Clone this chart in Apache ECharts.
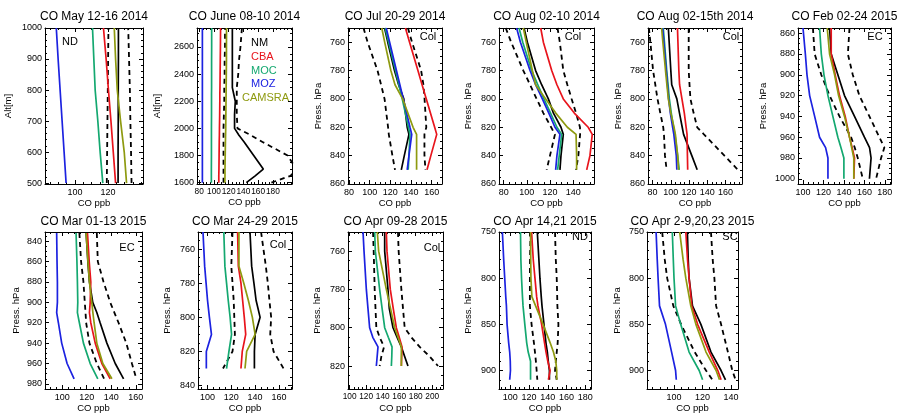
<!DOCTYPE html>
<html><head><meta charset="utf-8">
<script src="https://cdn.jsdelivr.net/npm/echarts@6/dist/echarts.min.js"></script>
<style>html,body{margin:0;padding:0;background:#fff}#c{width:897px;height:415px}</style>
</head><body><div id="c"></div>
<script>
// ---------------- DATA ----------------
const TITLES = ['CO May 12-16 2014','CO June 08-10 2014','CO Jul 20-29 2014','CO Aug 02-10 2014','CO Aug 02-15th 2014','CO Feb 02-24 2015','CO Mar 01-13 2015','CO Mar 24-29 2015','CO Apr 09-28 2015','CO Apr 14,21 2015','CO Apr 2-9,20,23 2015'];
const REGIONS = ['ND','','Col','Col','Col','EC','EC','Col','Col','ND','SC'];
const Y_NAMES = ['Alt[m]','Alt[m]','Press. hPa','Press. hPa','Press. hPa','Press. hPa','Press. hPa','Press. hPa','Press. hPa','Press. hPa','Press. hPa'];
const X_NAME = 'CO ppb';
const LEGEND_NAMES = ['NM','CBA','MOC','MOZ','CAMSRA'];
const X_TICKS = [[100,120],[80,100,120,140,160,180],[80,100,120,140,160],[80,100,120,140],[80,100,120,140,160],[100,120,140,160,180],[100,120,140,160],[100,120,140,160],[100,120,140,160,180,200],[100,120,140,160,180],[100,120,140]];
const Y_TICKS = [[500,600,700,800,900,1000],[1600,1800,2000,2200,2400,2600],[760,780,800,820,840,860],[760,780,800,820,840,860],[760,780,800,820,840,860],[860,880,900,920,940,960,980,1000],[840,860,880,900,920,940,960,980],[760,780,800,820,840],[760,780,800,820],[750,800,850,900],[750,800,850,900]];

const p1Levels = [500,600,700,800,900,1000];
const p1NM = [126,126,126.1,126.1,126.2,126.2];
const p1NMlo = [119.2,119.4,119.6,119.8,120,120.2];
const p1NMhi = [134.1,133.8,133.4,133.1,132.6,132.1];
const p1CBA = [124.5,123.1,121.7,120.2,118.8,117.2];
const p1MOC = [116.8,115.2,113.8,112.2,111.4,110.6];
const p1MOZ = [94.7,93.5,92.3,91.1,89.9,88.8];
const p1CAMSRA = [131.1,129.7,127.5,125.5,124.5,123.7];

const p2Levels = [1600,1650,1700,1800,1900,1950,2000,2100,2200,2250,2300,2400,2500,2600,2740];
const p2NM = [144,156,167,154,141,134,128,128,129,127,125,125,125,125,125];
const p2NMlo = [113,113,113,113,113,113,113,113.5,114,114,114,114.5,114.5,115,115];
const p2NMhi = [178,204,212,200,166,150,132,131,131,131,131,133,134,136,138];
const p2CBA = [106.6,106.6,106.8,107,107.2,107.4,107.5,107.8,108,108,108.2,108.4,108.6,108.8,109];
const p2MOC = [96.5,96.5,96.5,96.6,96.6,96.6,96.6,96.7,96.7,96.7,96.8,96.8,96.8,96.9,96.9];
const p2MOZ = [84.3,84.3,84.3,84.3,84.3,84.3,84.3,84.3,84.3,84.3,84.3,84.3,84.3,84.3,84.3];
const p2CAMSRA = [114.8,115,115,115.3,115.6,115.8,116,116.2,116.4,116.5,116.6,116.8,117,117,117.1];

const p3Levels = [750,760,780,790,800,820,825,840,850];
const p3NM = [114.4,117.5,124,128,133,136.3,138,133.5,130.6];
const p3NMlo = [94,98,107.6,111,114.4,117.8,118.5,122,124.5];
const p3NMhi = [137,141,149.8,152,153.1,154.8,153,153,154];
const p3CBA = [134.6,138.6,146.7,150.7,154.8,162.9,164.9,159.2,155.5];
const p3MOC = [115,118.3,125,128.3,131.5,137.5,139,138,137.3];
const p3MOZ = [116,119.3,125.9,129.2,132.5,139,140.7,138,136.3];
const p3CAMSRA = [111.7,114.5,120.5,124.5,131.9,142,145.4,145.4,145.4];

const p4Levels = [750,760,780,790,800,810,820,825,840,850];
const p4NM = [97.6,100.5,107.6,112.8,118.6,123,129.5,131.5,129.5,128.6];
const p4NMlo = [81.8,86.5,97,102.8,108.5,114.3,121,124.3,120,117.1];
const p4NMhi = [126.5,128.5,131.5,135,138.7,142.5,145.9,146,144.5,142.5];
const p4CBA = [112,114.3,121.5,126,131.5,141,153,156.5,154.5,151.7];
const p4MOC = [93.3,96.5,104.2,109.5,114.8,120.5,126,130.1,128,126.6];
const p4MOZ = [91.2,94.5,102.8,107.6,113.4,119,124.3,128.6,126,124.9];
const p4CAMSRA = [97,99.5,104.8,107.6,116.3,125,135,142.5,143,143];

const p5Levels = [750,760,780,790,800,810,820,825,840,850];
const p5NM = [97.3,98.2,100,101,106.6,109.5,112.5,114,123,128.9];
const p5NMlo = [76,77.6,80.6,83,85.4,88.5,91.7,92.5,93.6,95.4];
const p5NMhi = [119.6,119.6,119.6,120.5,121.5,125,128.9,136.3,158.7,173.5];
const p5CBA = [107.3,107.8,108.8,109.6,112.2,114.8,116.8,117.8,118.2,118.5];
const p5MOC = [91.7,93,95.5,97,98.4,100.5,103,104.5,107.5,109.2];
const p5MOZ = [91,92.3,95,96.3,97.6,99.5,102,103.3,106,106.6];
const p5CAMSRA = [89.9,91.3,94.2,95.7,97.3,100,103.5,105,107.5,108.5];

const p6Levels = [855,880,900,920,940,960,970,980,1000];
const p6NM = [125.9,127.5,134,140.5,150.3,160,165,166.5,164.9];
const p6NMlo = [109.6,111.3,117.8,125.9,135.6,147,150.5,153.5,158.4];
const p6NMhi = [145.4,143.8,148.6,155.1,164.9,174.6,179.5,176.3,171.4];
const p6CBA = [127.5,127.5,131.4,135.6,141.2,145.4,148,150.3,149.6];
const p6MOC = [116.1,117.8,120.4,124.3,129.1,134,137,139.9,139.9];
const p6MOZ = [99.9,102.2,103.8,106.4,111.3,116.1,122,124.3,124.3];
const p6CAMSRA = [123.6,125.9,130.8,134.7,140.5,145.4,147.5,149.6,149.6];

const p7Levels = [832,860,880,900,910,920,940,960,975];
const p7NM = [119.5,120.9,122.2,124.9,128.2,130.9,136.4,143.2,150];
const p7NMlo = [114,115.4,117.3,118.4,119,119.5,122.2,128.2,134.2];
const p7NMhi = [128.2,129,133.7,139.1,142.5,145.9,152.2,156.8,160.4];
const p7CBA = [120.6,122,123.3,122.8,122.2,123.3,126.9,132.3,139.1];
const p7MOC = [111.3,112,112.4,112.7,112.4,114,117.3,122.8,129];
const p7MOZ = [95.5,95.8,96.1,96.1,95.5,96.9,99.6,104,109.7];
const p7CAMSRA = [119.5,121,122.2,124.1,125,126,128.2,133.1,140.5];

const p8Levels = [750,770,780,790,800,810,820,830];
const p8NM = [135.7,137.1,139,140.8,144.2,140,139.4,139.4];
const p8NMlo = [121,120,121,122,122.5,123,121,113];
const p8NMhi = [145,149,150.7,152,153.5,152.7,155.5,163.9];
const p8CBA = [125.3,125.9,128.1,129.5,130.9,132.1,129.2,128.1];
const p8MOC = [113.7,114.6,116,117.4,119,120.2,118,116];
const p8MOZ = [96.2,97.6,98.8,100,101.6,103.3,99,99];
const p8CAMSRA = [126.4,126.4,130.5,134.3,137.7,140,132.9,131.5];

const p9Levels = [750,760,780,790,800,805,810,815,820];
const p9NM = [142.4,142.4,146.4,148,152.5,157.5,162.6,166.6,170.6];
const p9NMlo = [128.3,129.1,130.3,131.3,132.3,136.3,141.6,138.4,136.3];
const p9NMhi = [158.5,159.3,162.6,164.6,166.6,174.7,184.8,196.9,207];
const p9CBA = [144.4,145.2,149.2,152.8,156.5,160,163.4,163,162.6];
const p9MOC = [130.3,131.1,136.3,139.3,142.4,146.8,151.3,151,150.5];
const p9MOZ = [116.2,117.4,120.2,122.2,124.2,128,134.3,133.3,132.3];
const p9CAMSRA = [133.5,135.1,144.4,149.5,154.5,158.5,162.6,162.6,162.6];

const p10Levels = [750,780,800,820,830,850,870,880,890,900,910];
const p10NM = [128.8,130.5,131.6,133,133.8,135.9,138,139.5,140.5,141.7,141.7];
const p10NMlo = [121.6,121,120.9,120.9,120.9,122.7,125.2,126.3,127.3,128.1,128.8];
const p10NMhi = [147.7,148.5,149.5,150,150.2,151.3,150.5,149.5,148.5,147.7,149.5];
const p10CBA = [122.7,124.5,126.3,128.1,129.5,133.4,136.5,138.1,140,142.4,140.6];
const p10MOC = [110.9,111.3,112,113,113.6,115.5,117.5,119.1,121.6,121.6,121.6];
const p10MOZ = [91.6,93,94.1,95.2,95.9,96.6,98.3,99.4,100,100.2,99.4];
const p10CAMSRA = [121.6,121.8,122,123,127,135,142.5,146,148.5,149.5,149.5];

const p11Levels = [750,780,800,830,850,880,900,910];
const p11NM = [109.4,110,110.6,113,118.9,126,133.1,136.2];
const p11NMlo = [91.7,93.5,95.2,99.5,105,114.5,122.5,127];
const p11NMhi = [126,127.2,128.4,129.6,133.1,137.9,141,143.3];
const p11CBA = [108.3,109.5,110.6,112.5,116.6,124.8,130.8,133.1];
const p11MOC = [98.8,99.5,100,101.1,104.7,110.6,117.7,120.1];
const p11MOZ = [87.4,88.2,88.8,89.8,94,98.3,101.1,101.6];
const p11CAMSRA = [104,106.4,108.3,111.8,115.4,122.5,129.6,132];

// ---------------- LAYOUT ----------------
const PANEL_SERIES = [
  [p1Levels,p1NM,p1NMlo,p1NMhi,p1CBA,p1MOC,p1MOZ,p1CAMSRA],
  [p2Levels,p2NM,p2NMlo,p2NMhi,p2CBA,p2MOC,p2MOZ,p2CAMSRA],
  [p3Levels,p3NM,p3NMlo,p3NMhi,p3CBA,p3MOC,p3MOZ,p3CAMSRA],
  [p4Levels,p4NM,p4NMlo,p4NMhi,p4CBA,p4MOC,p4MOZ,p4CAMSRA],
  [p5Levels,p5NM,p5NMlo,p5NMhi,p5CBA,p5MOC,p5MOZ,p5CAMSRA],
  [p6Levels,p6NM,p6NMlo,p6NMhi,p6CBA,p6MOC,p6MOZ,p6CAMSRA],
  [p7Levels,p7NM,p7NMlo,p7NMhi,p7CBA,p7MOC,p7MOZ,p7CAMSRA],
  [p8Levels,p8NM,p8NMlo,p8NMhi,p8CBA,p8MOC,p8MOZ,p8CAMSRA],
  [p9Levels,p9NM,p9NMlo,p9NMhi,p9CBA,p9MOC,p9MOZ,p9CAMSRA],
  [p10Levels,p10NM,p10NMlo,p10NMhi,p10CBA,p10MOC,p10MOZ,p10CAMSRA],
  [p11Levels,p11NM,p11NMlo,p11NMhi,p11CBA,p11MOC,p11MOZ,p11CAMSRA]
];
// box: [left, right, top, bottom] in px
const BOX = [[45,143,28,184],[197,292,28,184],[348,442,28,184],[499,594,28,184],[648,742,28,184],[798,891,28,184],
             [45,142,232,389],[198,292,232,389],[348,443,232,389],[499,591,232,389],[647,738,232,389]];
const XR = [[82,141],[77,206],[79,170],[76,158],[75,178],[95,186],[86,165],[92,171],[98,213],[88,186],[81,145]];
const YR = [[497,1000],[1590,2740],[750,860],[750,860],[750,860],[855,1005],[831,985],[750,842],[750,832],[750,920],[750,920]];
const INV = [false,false,true,true,true,true,true,true,true,true,true];
const XMINOR = [5,5,5,5,5,5,5,5,5,5,5];
const YMINOR = [20,50,5,5,5,5,5,5,5,10,10];
const YGAP = [32,35,25,26,25,30,24,26,26,26,25];
const XFONT = [9,8.3,9,9,9,9,9,9,8.3,9,9];
const REGION_POS = [[70,42],null,[428,37],[573,37],[731,37],[875,37],[127,248],[278,245],[432,248],[580,237],[730,237]];

const FONT = '"Liberation Sans", Arial, Helvetica, sans-serif';
const COLORS = {NM:'#000000', CBA:'#e8141c', MOC:'#14a870', MOZ:'#1c22e0', CAMSRA:'#8e9a10'};

function minorTicks(min, max, step, major){
  const out = [];
  for (let v = Math.ceil(min/step)*step; v <= max + 1e-9; v += step) {
    const r = Math.round(v*1000)/1000;
    if (major.indexOf(r) < 0) out.push(r);
  }
  return out;
}
const plain = (v) => String(Math.round(v));

const grid = [], xAxis = [], yAxis = [], series = [], title = [], graphic = [];
const W = 897, H = 415;

BOX.forEach((b, i) => {
  grid.push({left: b[0], top: b[2], width: b[1]-b[0], height: b[3]-b[2], show: false, containLabel: false});
  const xMaj = X_TICKS[i], yMaj = Y_TICKS[i];
  const xMin = minorTicks(XR[i][0], XR[i][1], XMINOR[i], xMaj);
  const yMin = minorTicks(YR[i][0], YR[i][1], YMINOR[i], yMaj);
  const base = {type:'value', gridIndex:i, scale:true, splitLine:{show:false}, silent:true};
  const lineOn = {show:true, onZero:false, lineStyle:{color:'#000', width:1}};
  const tickMaj = (vals) => ({show:true, inside:true, length:4, customValues: vals, lineStyle:{color:'#000', width:1}});
  const tickMin = (vals) => ({show:true, inside:true, length:2, customValues: vals, lineStyle:{color:'#000', width:1}});
  const isBottom = i >= 6;
  xAxis.push(Object.assign({}, base, {min:XR[i][0], max:XR[i][1], position:'bottom', axisLine:lineOn, axisTick:tickMaj(xMaj),
    axisLabel:{show:true, customValues:xMaj, formatter:plain, hideOverlap:false, fontSize:XFONT[i], color:'#000', margin:4, fontFamily:FONT},
    name:X_NAME, nameLocation:'middle', nameGap: isBottom ? 14 : 11, nameTextStyle:{fontSize:9.5, color:'#000', fontFamily:FONT}}));
  xAxis.push(Object.assign({}, base, {min:XR[i][0], max:XR[i][1], position:'bottom', axisLine:{show:false}, axisTick:tickMin(xMin), axisLabel:{show:false}}));
  xAxis.push(Object.assign({}, base, {min:XR[i][0], max:XR[i][1], position:'top', axisLine:lineOn, axisTick:tickMaj(xMaj), axisLabel:{show:false}}));
  xAxis.push(Object.assign({}, base, {min:XR[i][0], max:XR[i][1], position:'top', axisLine:{show:false}, axisTick:tickMin(xMin), axisLabel:{show:false}}));
  yAxis.push(Object.assign({}, base, {min:YR[i][0], max:YR[i][1], inverse:INV[i], position:'left', axisLine:lineOn, axisTick:tickMaj(yMaj),
    axisLabel:{show:true, customValues:yMaj, formatter:plain, hideOverlap:false, fontSize:9, color:'#000', margin:3, fontFamily:FONT},
    name:Y_NAMES[i], nameLocation:'middle', nameGap:YGAP[i], nameRotate:90, nameTextStyle:{fontSize:9.5, color:'#000', fontFamily:FONT}}));
  yAxis.push(Object.assign({}, base, {min:YR[i][0], max:YR[i][1], inverse:INV[i], position:'left', axisLine:{show:false}, axisTick:tickMin(yMin), axisLabel:{show:false}}));
  yAxis.push(Object.assign({}, base, {min:YR[i][0], max:YR[i][1], inverse:INV[i], position:'right', axisLine:lineOn, axisTick:tickMaj(yMaj), axisLabel:{show:false}}));
  yAxis.push(Object.assign({}, base, {min:YR[i][0], max:YR[i][1], inverse:INV[i], position:'right', axisLine:{show:false}, axisTick:tickMin(yMin), axisLabel:{show:false}}));

  const [lev, NM, NMlo, NMhi, CBA, MOC, MOZ, CAM] = PANEL_SERIES[i];
  const mk = (name, vals, color, dashed, width) => ({
    type:'line', name, xAxisIndex:4*i, yAxisIndex:4*i, showSymbol:false, symbol:'none', clip:true, silent:true,
    animation:false, z: dashed ? 2 : 3,
    lineStyle:{color, width, type: dashed ? [5,4] : 'solid'},
    data: lev.map((p, k) => vals[k] == null ? null : [vals[k], p]).filter(d => d)
  });
  series.push(mk('NM -sd', NMlo, COLORS.NM, true, 1.8));
  series.push(mk('NM +sd', NMhi, COLORS.NM, true, 1.8));
  series.push(mk('NM', NM, COLORS.NM, false, 1.7));
  series.push(mk('CBA', CBA, COLORS.CBA, false, 1.7));
  series.push(mk('MOC', MOC, COLORS.MOC, false, 1.7));
  series.push(mk('MOZ', MOZ, COLORS.MOZ, false, 1.7));
  series.push(mk('CAMSRA', CAM, COLORS.CAMSRA, false, 1.7));

  title.push({text: TITLES[i], left: (b[0]+b[1])/2, top: isBottom ? 222 : 17, textAlign:'center', textVerticalAlign:'middle', padding:0,
    textStyle:{fontSize:12, fontWeight:'normal', color:'#000', fontFamily:FONT}});
  if (REGIONS[i]) {
    graphic.push({type:'text', x: REGION_POS[i][0], y: REGION_POS[i][1], silent:true,
      style:{text: REGIONS[i], fill:'#000', fontSize:11, fontFamily:FONT, align:'center', verticalAlign:'middle'}});
  }
});

const LEG_POS = [[251,43],[251,57],[251,71],[251,84],[242,98]];
LEGEND_NAMES.forEach((n, k) => {
  graphic.push({type:'text', x: LEG_POS[k][0], y: LEG_POS[k][1], silent:true,
    style:{text:n, fill: COLORS[n], fontSize:11, fontFamily:FONT, align:'left', verticalAlign:'middle'}});
});

const chart = echarts.init(document.getElementById('c'), null, {renderer:'canvas', width:W, height:H});
chart.setOption({animation:false, backgroundColor:'#fff', title, grid, xAxis, yAxis, series, graphic});
</script></body></html>
